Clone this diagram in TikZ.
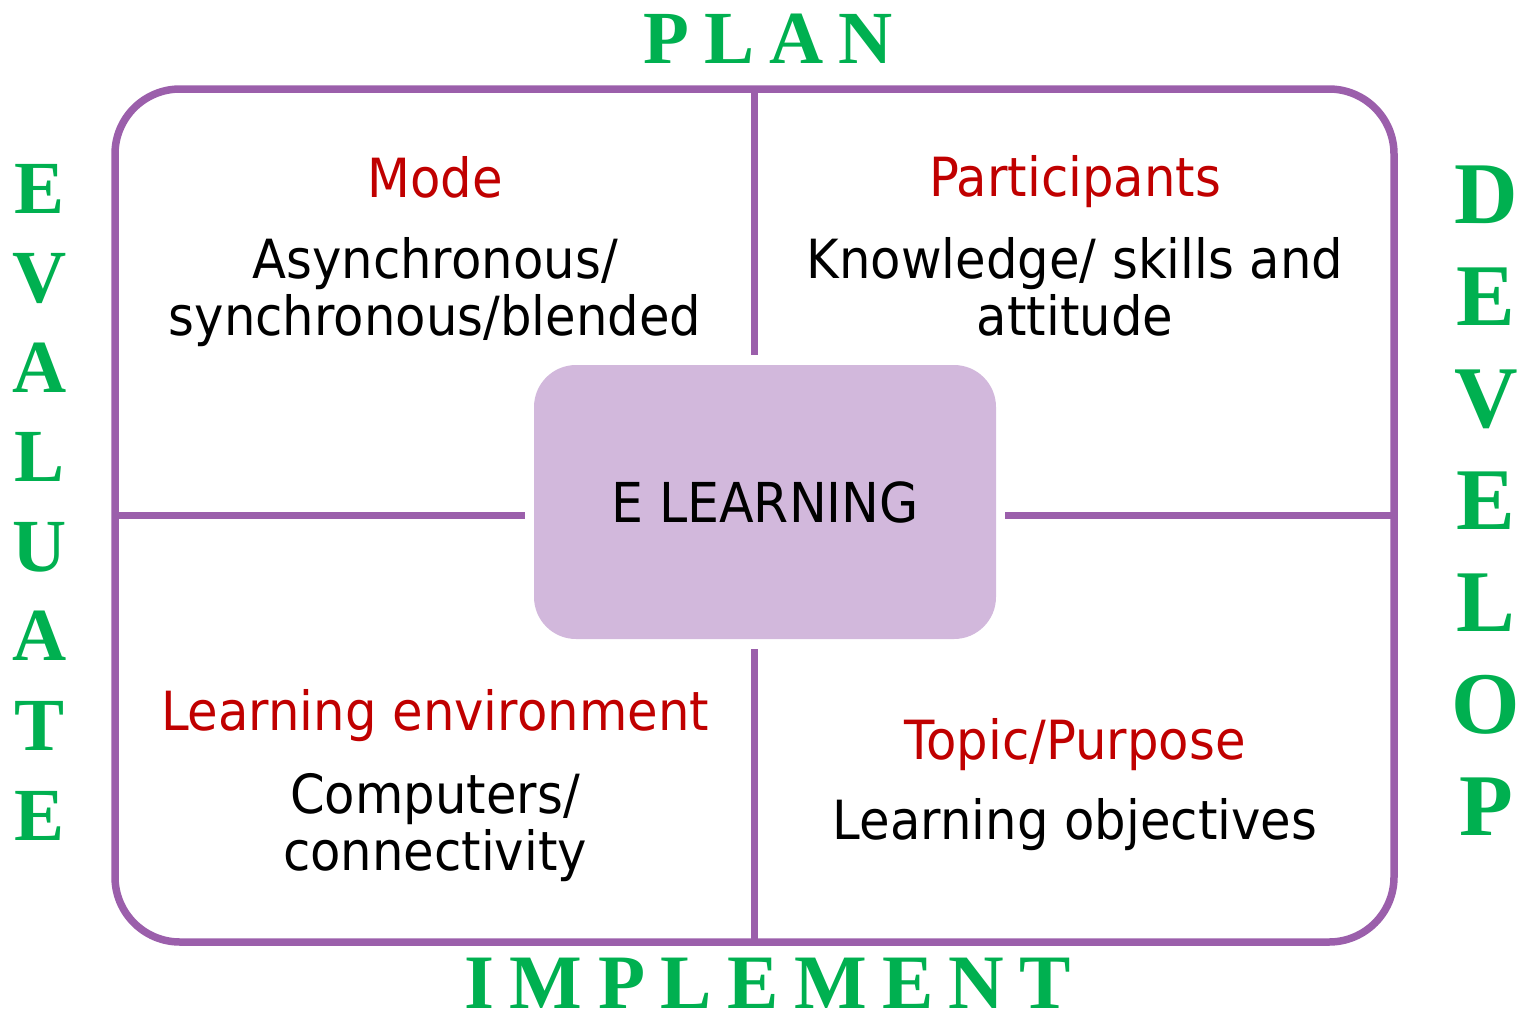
\documentclass[tikz,border=0pt]{standalone}
\usepackage{fontspec}
\setmainfont{DejaVu Sans}[FakeStretch=0.92]
\newfontfamily\stagefont{Liberation Serif}
\newfontfamily\stagespaced{Liberation Serif}[LetterSpace=20]
\definecolor{framepurple}{HTML}{9B5FAB}
\definecolor{boxlilac}{HTML}{D2B8DC}
\definecolor{headred}{HTML}{C00000}
\definecolor{stagegreen}{HTML}{00B050}
\tikzset{
  frameline/.style={draw=framepurple, line width=7.5pt},
  head/.style={text=headred, font=\fontsize{54}{57}\selectfont, anchor=base, inner sep=0pt},
  body/.style={font=\fontsize{54}{57}\selectfont, align=center, anchor=base, inner sep=0pt},
  stage/.style={text=stagegreen, anchor=base, inner sep=0pt}
}
\begin{document}
\begin{tikzpicture}[x=1pt,y=-1pt]
\useasboundingbox (0,0) rectangle (1521,1013);
% frame and centre box
\node[frameline, rounded corners=65pt, minimum width=1279pt, minimum height=853pt,
  inner sep=0pt, outer sep=0pt] (frame) at (754.5,515.5) {};
\node[fill=boxlilac, rounded corners=42pt, minimum width=462pt, minimum height=274pt,
  inner sep=0pt, outer sep=0pt, font=\fontsize{55}{57}\selectfont] (elearn) at (765,502) {E LEARNING};
\draw[frameline, shorten >=10pt] (frame.north) -- (frame.north |- elearn.north);
\draw[frameline, shorten >=10pt] (frame.south) -- (frame.south |- elearn.south);
\draw[frameline, shorten >=9pt] (frame.west) -- (frame.west -| elearn.west);
\draw[frameline, shorten >=9pt] (frame.east) -- (frame.east -| elearn.east);
% quadrants (base of a two-line text is its last line)
\node[head] (mode) at (435,197) {Mode};
\node[body] (modetext) at (435,335) {Asynchronous/\\synchronous/blended};
\node[head] (part) at (1075,196) {Participants};
\node[body] (parttext) at (1075,335) {Knowledge/ skills and\\attitude};
\node[head] (env) at (435,730) {Learning environment};
\node[body] (envtext) at (435,870) {Computers/\\connectivity};
\node[head] (topic) at (1075,759) {Topic/Purpose};
\node[body] (topictext) at (1075,839) {Learning objectives};
% stages round the frame
\node[stage, font=\stagespaced\bfseries\fontsize{75}{75}\selectfont] (plan) at (768,63) {PLAN};
\node[stage, font=\stagespaced\bfseries\fontsize{77}{77}\selectfont] (impl) at (768,1008) {IMPLEMENT};
\foreach \l [count=\i] in {E,V,A,L,U,A,T,E}
  \node[stage, font=\stagefont\bfseries\fontsize{75}{75}\selectfont] (ev\i) at (40,{213+89.57*(\i-1)}) {\l};
\foreach \l [count=\i] in {D,E,V,E,L,O,P}
  \node[stage, font=\stagefont\bfseries\fontsize{88}{88}\selectfont] (dev\i) at (1486,{223+102*(\i-1)}) {\l};
\end{tikzpicture}
\end{document}
